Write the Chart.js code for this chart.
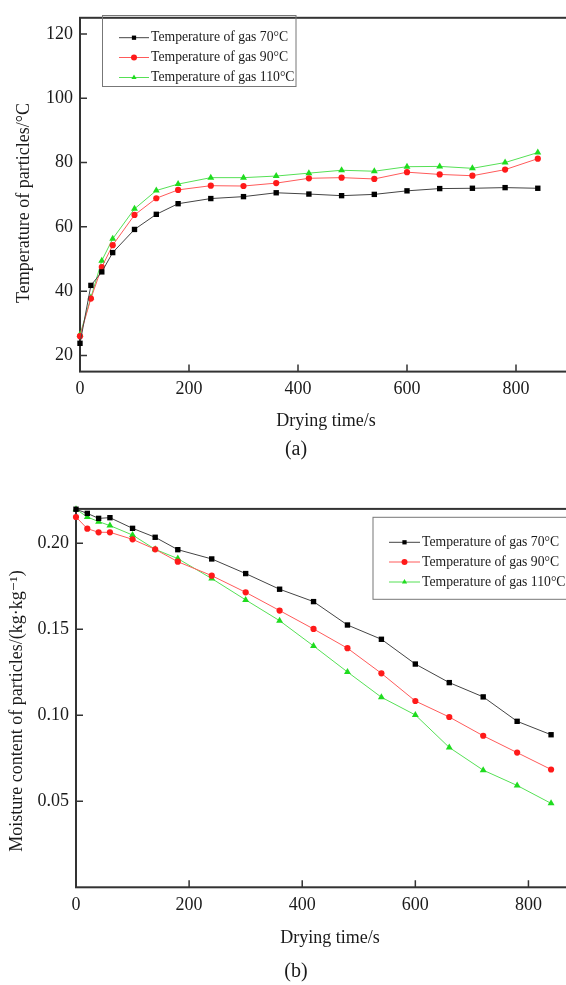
<!DOCTYPE html>
<html>
<head>
<meta charset="utf-8">
<script src="https://cdn.jsdelivr.net/npm/chart.js@4.4.1/dist/chart.umd.min.js"></script>
<style>
  html, body { margin: 0; padding: 0; background: #fff; }
  body { width: 566px; height: 985px; overflow: hidden; position: relative; font-family: "Liberation Serif", "DejaVu Serif", serif; }
  .box { position: absolute; left: 0; width: 600px; }
  #boxA { top: 0; height: 440px; }
  #boxB { top: 480px; height: 480px; }
  .caption { position: absolute; left: 0; width: 592px; text-align: center; font-size: 20px; line-height: 23px; color: #1a1a1a; }
</style>
</head>
<body>
<div class="box" id="boxA"><canvas id="chartA"></canvas></div>
<div class="caption" style="top:437px">(a)</div>
<div class="box" id="boxB"><canvas id="chartB"></canvas></div>
<div class="caption" style="top:959px">(b)</div>

<script>
// sampling times (s)
const dryingTime = [0, 20, 40, 60, 100, 140, 180, 240, 300, 360, 420, 480, 540, 600, 660, 720, 780, 840];

// (a) particle temperature, °C
const temp70  = [23.8, 41.8, 46.0, 52.0, 59.2, 63.9, 67.2, 68.8, 69.4, 70.6, 70.2, 69.7, 70.1, 71.2, 71.9, 72.0, 72.2, 72.0];
const temp90  = [26.0, 37.7, 47.5, 54.3, 63.7, 68.9, 71.5, 72.8, 72.7, 73.6, 75.1, 75.3, 74.9, 77.0, 76.3, 75.9, 77.8, 81.2];
const temp110 = [26.5, 38.0, 49.5, 56.3, 65.6, 71.3, 73.3, 75.3, 75.3, 75.8, 76.7, 77.6, 77.3, 78.7, 78.8, 78.2, 80.0, 83.1];

// (b) moisture content, kg/kg
const moist70  = [0.2198, 0.2174, 0.2145, 0.2149, 0.2087, 0.2035, 0.1963, 0.1909, 0.1824, 0.1733, 0.1661, 0.1525, 0.1442, 0.1298, 0.1190, 0.1107, 0.0965, 0.0887];
const moist90  = [0.2153, 0.2085, 0.2064, 0.2064, 0.2023, 0.1965, 0.1893, 0.1812, 0.1715, 0.1609, 0.1502, 0.1390, 0.1244, 0.1083, 0.0990, 0.0881, 0.0783, 0.0685];
const moist110 = [0.2198, 0.2153, 0.2126, 0.2103, 0.2048, 0.1965, 0.1911, 0.1795, 0.1671, 0.1550, 0.1403, 0.1252, 0.1105, 0.1002, 0.0813, 0.0681, 0.0592, 0.0488];

const seriesNames = ['Temperature of gas 70°C', 'Temperature of gas 90°C', 'Temperature of gas 110°C'];

// ticks (empty label = minor tick)
const timeTicks  = [0, 100, 200, 300, 400, 500, 600, 700, 800, 900];
const timeLabels = ['0', '', '200', '', '400', '', '600', '', '800', ''];
const tempTicks  = [20, 30, 40, 50, 60, 70, 80, 90, 100, 110, 120];
const tempLabels = ['20', '', '40', '', '60', '', '80', '', '100', '', '120'];
const moistTicks  = [0, 0.025, 0.05, 0.075, 0.10, 0.125, 0.15, 0.175, 0.20];
const moistLabels = ['', '', '0.05', '', '0.10', '', '0.15', '', '0.20'];

const SERIF = '"Liberation Serif", "DejaVu Serif", serif';
const TEXT = '#1a1a1a';
const AXIS = '#333';

const styles = [
  { line: '#444444', mark: '#000000', shape: 'rect',     r: 3.8 },
  { line: '#ff5a5a', mark: '#ff1a1a', shape: 'circle',   r: 3.1 },
  { line: '#55e055', mark: '#1fdc1f', shape: 'triangle', r: 4.0 }
];

function makeSets(lists) {
  return lists.map((vals, i) => ({
    label: seriesNames[i],
    data: dryingTime.map((t, k) => ({ x: t, y: vals[k] })),
    borderColor: styles[i].line,
    borderWidth: 1,
    backgroundColor: styles[i].mark,
    pointBackgroundColor: styles[i].mark,
    pointBorderColor: styles[i].mark,
    pointBorderWidth: 0,
    pointStyle: styles[i].shape,
    pointRadius: styles[i].r,
    tension: 0,
    clip: false
  }));
}

function marker(ctx, shape, x, y, r, color) {
  ctx.fillStyle = color;
  ctx.beginPath();
  if (shape === 'rect') {
    const s = r * Math.SQRT1_2;
    ctx.rect(x - s, y - s, 2 * s, 2 * s);
  } else if (shape === 'triangle') {
    ctx.moveTo(x, y - r);
    ctx.lineTo(x + r * 0.866, y + r * 0.5);
    ctx.lineTo(x - r * 0.866, y + r * 0.5);
    ctx.closePath();
  } else {
    ctx.arc(x, y, r, 0, Math.PI * 2);
  }
  ctx.fill();
}

function tickLabel(labels, ticksArr) {
  return function (value) {
    const i = ticksArr.findIndex(v => Math.abs(v - value) < 1e-9);
    return (i >= 0 && labels[i] !== '') ? labels[i] : null;
  };
}

// frame, inward ticks, legend and axis titles
const figPlugin = {
  id: 'fig',
  beforeDatasetsDraw(chart, args, o) {
    const ctx = chart.ctx;
    const a = chart.chartArea;
    const xs = chart.scales.x, ys = chart.scales.y;
    ctx.save();
    ctx.strokeStyle = AXIS;
    ctx.lineWidth = 1.5;
    ctx.beginPath();
    xs.ticks.forEach(t => {
      if (t.value <= xs.min) return;
      const px = xs.getPixelForValue(t.value);
      const len = t.label ? 7 : 4;
      ctx.moveTo(px, a.bottom);
      ctx.lineTo(px, a.bottom - len);
    });
    ys.ticks.forEach(t => {
      if (t.value <= ys.min) return;
      const py = ys.getPixelForValue(t.value);
      const len = t.label ? 7 : 4;
      ctx.moveTo(a.left, py);
      ctx.lineTo(a.left + len, py);
    });
    ctx.stroke();
    ctx.lineWidth = 2;
    ctx.strokeRect(a.left, a.top, a.right - a.left, a.bottom - a.top);
    ctx.restore();
  },
  afterDraw(chart, args, o) {
    const ctx = chart.ctx;
    ctx.save();
    // legend
    const L = o.legend;
    ctx.strokeStyle = '#777';
    ctx.lineWidth = 1;
    ctx.strokeRect(L.left, L.top, L.right - L.left, L.bottom - L.top);
    ctx.font = L.size + 'px ' + SERIF;
    ctx.textBaseline = 'middle';
    ctx.textAlign = 'left';
    chart.data.datasets.forEach((ds, i) => {
      const y = L.rows[i];
      ctx.strokeStyle = ds.borderColor;
      ctx.beginPath();
      ctx.moveTo(L.x0, y);
      ctx.lineTo(L.x1, y);
      ctx.stroke();
      marker(ctx, ds.pointStyle, (L.x0 + L.x1) / 2, y, 3, ds.pointBackgroundColor);
      ctx.fillStyle = TEXT;
      ctx.fillText(ds.label, L.text, y);
    });
    // axis titles
    ctx.fillStyle = TEXT;
    ctx.font = '18px ' + SERIF;
    ctx.textAlign = 'center';
    ctx.fillText(o.xTitle.text, o.xTitle.x, o.xTitle.y);
    ctx.translate(o.yTitle.x, o.yTitle.y);
    ctx.rotate(-Math.PI / 2);
    ctx.fillText(o.yTitle.text, 0, 0);
    ctx.restore();
  }
};

function makeChart(id, sets, cfg) {
  return new Chart(document.getElementById(id), {
    type: 'line',
    data: { datasets: sets },
    plugins: [figPlugin],
    options: {
      responsive: true,
      maintainAspectRatio: false,
      animation: false,
      events: [],
      layout: { padding: cfg.padding },
      plugins: {
        legend: { display: false },
        tooltip: { enabled: false },
        fig: cfg.fig
      },
      scales: {
        x: {
          type: 'linear',
          min: 0, max: 900,
          grid: { display: false, drawTicks: false },
          border: { display: false },
          afterBuildTicks: s => { s.ticks = timeTicks.map(v => ({ value: v })); },
          afterFit: s => { s.height = cfg.xHeight; },
          ticks: {
            padding: 7, color: TEXT, maxRotation: 0, autoSkip: false,
            font: { family: SERIF, size: 18 },
            callback: tickLabel(timeLabels, timeTicks)
          }
        },
        y: {
          type: 'linear',
          min: cfg.yMin, max: cfg.yMax,
          grid: { display: false, drawTicks: false },
          border: { display: false },
          afterBuildTicks: s => { s.ticks = cfg.yTicks.map(v => ({ value: v })); },
          afterFit: s => { s.width = cfg.yWidth; },
          ticks: {
            padding: 7, color: TEXT, autoSkip: false,
            font: { family: SERIF, size: 18 },
            callback: tickLabel(cfg.yLabels, cfg.yTicks)
          }
        }
      }
    }
  });
}

makeChart('chartA', makeSets([temp70, temp90, temp110]), {
  padding: { top: 6, right: 29.5, left: 0, bottom: 0 },
  xHeight: 68.4, yWidth: 80,
  yMin: 15, yMax: 125, yTicks: tempTicks, yLabels: tempLabels,
  fig: {
    legend: { left: 102.5, top: 15.5, right: 296, bottom: 86.5, rows: [37.7, 57.5, 77.5], x0: 119, x1: 149, text: 151, size: 13.7 },
    xTitle: { text: 'Drying time/s', x: 326, y: 421 },
    yTitle: { text: 'Temperature of particles/°C', x: 24, y: 203 }
  }
});

makeChart('chartB', makeSets([moist70, moist90, moist110]), {
  padding: { top: 28.9, right: 15, left: 0, bottom: 0 },
  xHeight: 72.7, yWidth: 76,
  yMin: 0, yMax: 0.22, yTicks: moistTicks, yLabels: moistLabels,
  fig: {
    legend: { left: 373, top: 37.3, right: 640, bottom: 119.3, rows: [62.3, 82, 102], x0: 389, x1: 420, text: 422, size: 13.7 },
    xTitle: { text: 'Drying time/s', x: 330, y: 458 },
    yTitle: { text: 'Moisture content of particles/(kg·kg⁻¹)', x: 17, y: 231 }
  }
});
</script>
</body>
</html>
